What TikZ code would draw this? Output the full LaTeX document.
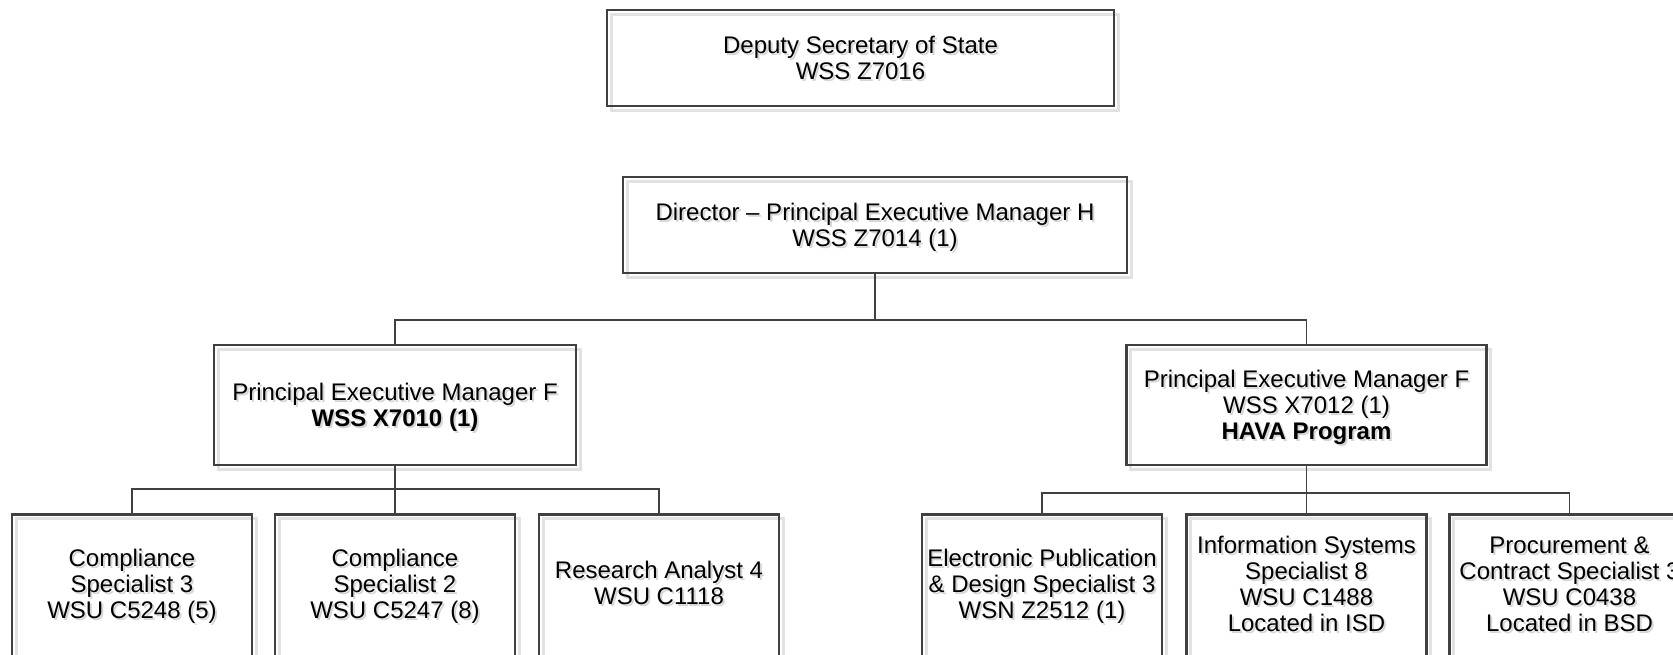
\documentclass[tikz,border=0pt]{standalone}
\usepackage{fontspec}
\setmainfont{Liberation Sans}
\definecolor{edgec}{HTML}{404040}
\definecolor{shadec}{HTML}{E2E2E2}
\definecolor{ghostc}{HTML}{D6D6D6}
\newcommand\shtxt[1]{\raisebox{-3.5pt}[\height][\depth]{\setlength\tabcolsep{0pt}\rlap{\raisebox{-2pt}[0pt][0pt]{\hspace{2pt}\color{ghostc}\begin{tabular}{c}#1\end{tabular}}}\begin{tabular}{c}#1\end{tabular}}}
\tikzset{
  orgbox/.style={draw=edgec, line width=2.5pt, rectangle, inner sep=0pt,
    font=\fontsize{24}{26}\selectfont,
    preaction={draw=shadec, line width=3pt, transform canvas={shift={(4pt,-4pt)}}}},
  lbl/.style={inner sep=0pt, font=\fontsize{24}{26}\selectfont},
  conn/.style={draw=edgec, line width=1.3pt},
}
\begin{document}
\begin{tikzpicture}[x=1pt,y=-1pt]
\useasboundingbox (0,0) rectangle (1673,654);
\clip (0,0) rectangle (1673,654);
\coordinate (busT) at (0,320);
\coordinate (busL) at (0,489);
\coordinate (busR) at (0,493);
% top levels
\node[orgbox, minimum width=507pt, minimum height=96pt] (dss) at (860.5,58) {\shtxt{Deputy Secretary of State\\WSS Z7016}};
\node[orgbox, minimum width=504pt, minimum height=96pt] (dir) at (875,225) {\shtxt{Director – Principal Executive Manager H\\WSS Z7014 (1)}};
\node[orgbox, minimum width=362pt, minimum height=120pt] (pemL) at (395,405) {\shtxt{Principal Executive Manager F\\\textbf{WSS X7010 (1)}}};
\node[orgbox, minimum width=360pt, minimum height=120pt] (pemR) at (1306.5,405) {\shtxt{Principal Executive Manager F\\WSS X7012 (1)\\\textbf{HAVA Program}}};
% bottom boxes
\node[orgbox, anchor=north, minimum width=240pt, minimum height=260pt] (b1) at (132,513) {};
\node[orgbox, anchor=north, minimum width=240pt, minimum height=260pt] (b2) at (395,513) {};
\node[orgbox, anchor=north, minimum width=240pt, minimum height=260pt] (b3) at (659,513) {};
\node[orgbox, anchor=north, minimum width=240pt, minimum height=260pt] (b4) at (1042,513) {};
\node[orgbox, anchor=north, minimum width=240pt, minimum height=260pt] (b5) at (1306.5,513) {};
\node[orgbox, anchor=north, minimum width=240pt, minimum height=260pt] (b6) at (1569.5,513) {};
\node[lbl] (b1t) at (132,584) {\shtxt{Compliance\\Specialist 3\\WSU C5248 (5)}};
\node[lbl] (b2t) at (395,584) {\shtxt{Compliance\\Specialist 2\\WSU C5247 (8)}};
\node[lbl] (b3t) at (659,583) {\shtxt{Research Analyst 4\\WSU C1118}};
\node[lbl] (b4t) at (1042,584) {\shtxt{Electronic Publication\\\& Design Specialist 3\\WSN Z2512 (1)}};
\node[lbl] (b5t) at (1306.5,584) {\shtxt{Information Systems\\Specialist 8\\WSU C1488\\Located in ISD}};
\node[lbl] (b6t) at (1569.5,584) {\shtxt{Procurement \&\\Contract Specialist 3\\WSU C0438\\Located in BSD}};
% connectors
\draw[conn] (dir.south) -- (dir.south |- busT) -| (pemL.north);
\draw[conn] (dir.south) -- (dir.south |- busT) -| (pemR.north);
\draw[conn] (pemL.south) -- (pemL.south |- busL) -| (b1.north);
\draw[conn] (pemL.south) -- (b2.north);
\draw[conn] (pemL.south) -- (pemL.south |- busL) -| (b3.north);
\draw[conn] (pemR.south) -- (pemR.south |- busR) -| (b4.north);
\draw[conn] (pemR.south) -- (b5.north);
\draw[conn] (pemR.south) -- (pemR.south |- busR) -| (b6.north);
\end{tikzpicture}
\end{document}
